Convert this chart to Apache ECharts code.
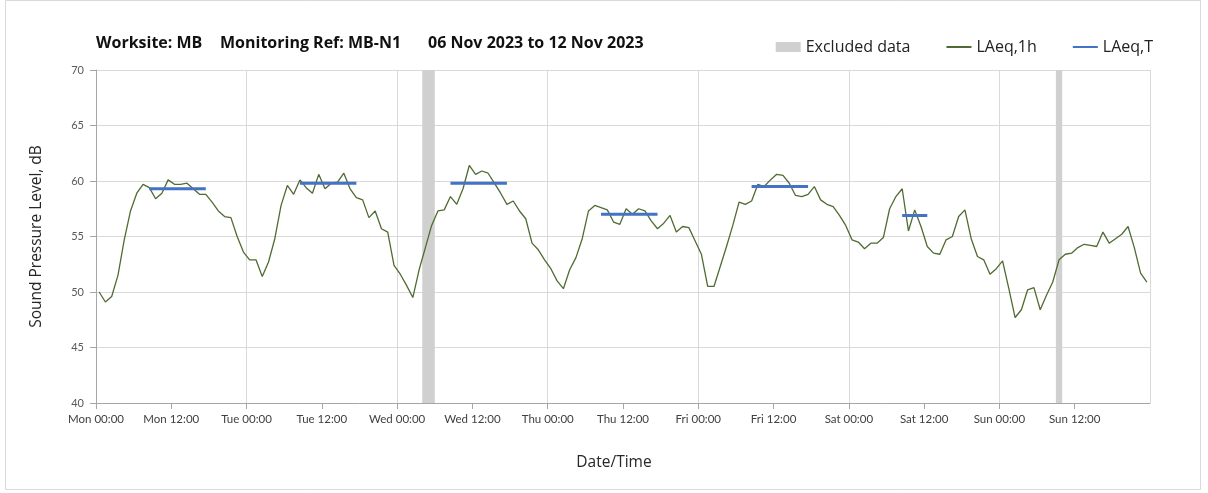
<!DOCTYPE html>
<html>
<head>
<meta charset="utf-8">
<script src="https://cdn.jsdelivr.net/npm/echarts@6/dist/echarts.min.js"></script>
<style>
  html, body { margin: 0; padding: 0; background: #fff; }
  #chart { width: 1208px; height: 493px; }
</style>
</head>
<body>
<div id="chart"></div>
<script>
// hourly LAeq,1h, Mon 00:00 .. Sun 23:00 (168 values)
const laeqHourly = [
  50.0, 49.1, 49.6, 51.5, 54.7, 57.3, 58.9, 59.7, 59.4, 58.4, 58.9, 60.1,
  59.7, 59.7, 59.8, 59.3, 58.8, 58.8, 58.1, 57.3, 56.8, 56.7, 55.0, 53.6,
  52.9, 52.9, 51.4, 52.7, 54.8, 57.8, 59.6, 58.8, 60.1, 59.4, 58.9, 60.6,
  59.3, 59.8, 59.9, 60.7, 59.3, 58.5, 58.3, 56.7, 57.3, 55.7, 55.4, 52.4,
  51.6, 50.6, 49.5, 52.0, 54.0, 56.0, 57.3, 57.4, 58.6, 57.9, 59.3, 61.4,
  60.6, 60.9, 60.7, 59.8, 58.9, 57.9, 58.2, 57.3, 56.6, 54.4, 53.8, 52.9,
  52.1, 51.0, 50.3, 52.0, 53.1, 54.8, 57.3, 57.8, 57.6, 57.4, 56.3, 56.1,
  57.5, 57.0, 57.5, 57.3, 56.4, 55.7, 56.2, 56.9, 55.4, 55.9, 55.8, 54.6,
  53.4, 50.5, 50.5, 52.3, 54.1, 56.0, 58.1, 57.9, 58.2, 59.7, 59.5, 60.1,
  60.6, 60.5, 59.8, 58.7, 58.6, 58.8, 59.5, 58.3, 57.9, 57.7, 56.9, 56.0,
  54.7, 54.5, 53.9, 54.4, 54.4, 54.9, 57.5, 58.6, 59.3, 55.5, 57.4, 55.9,
  54.1, 53.5, 53.4, 54.7, 55.0, 56.8, 57.4, 54.8, 53.2, 52.9, 51.6, 52.1,
  52.8, 50.3, 47.7, 48.4, 50.2, 50.4, 48.4, 49.7, 50.9, 52.9, 53.4, 53.5,
  54.0, 54.3, 54.2, 54.1, 55.4, 54.4, 54.8, 55.2, 55.9, 54.0, 51.7, 50.9
];

// LAeq,T periods (hours from Mon 00:00)
const periodStart = [8.5, 32.5, 56.5, 80.5, 104.5, 128.5];
const periodEnd = [17.5, 41.5, 65.5, 89.5, 113.5, 132.5];
const periodLevel = [59.3, 59.8, 59.8, 57.0, 59.5, 56.9];

// excluded data (hours from Mon 00:00)
const excludedStart = [52, 153];
const excludedEnd = [54, 154];

const tickLabels = [
  'Mon 00:00', 'Mon 12:00', 'Tue 00:00', 'Tue 12:00', 'Wed 00:00', 'Wed 12:00',
  'Thu 00:00', 'Thu 12:00', 'Fri 00:00', 'Fri 12:00', 'Sat 00:00', 'Sat 12:00',
  'Sun 00:00', 'Sun 12:00'
];

const hourlyData = laeqHourly.map((v, i) => [i + 0.5, v]);
const periodData = [];
periodStart.forEach((s, i) => {
  periodData.push([s, periodLevel[i]]);
  periodData.push([periodEnd[i], periodLevel[i]]);
  periodData.push([periodEnd[i], null]);
});
const excludedAreas = excludedStart.map((s, i) => [{ xAxis: s }, { xAxis: excludedEnd[i] }]);

const font = '"Open Sans", Lato, sans-serif';
const tickFont = 'Lato, sans-serif';
const hideDot = { color: 'rgba(0,0,0,0)', opacity: 0, borderWidth: 0 };
const chart = echarts.init(document.getElementById('chart'));

chart.setOption({
  animation: false,
  graphic: [{
    type: 'rect',
    shape: { x: 5.5, y: 0.5, width: 1195, height: 489 },
    style: { fill: 'none', stroke: '#d9d9d9', lineWidth: 1 },
    silent: true
  }],
  title: [
    { text: 'Worksite: MB', left: 91, top: 30 },
    { text: 'Monitoring Ref: MB-N1', left: 215, top: 30 },
    { text: '06 Nov 2023 to 12 Nov 2023', left: 423, top: 30 }
  ].map(t => Object.assign(t, {
    textStyle: { fontFamily: font, fontWeight: 'bold', fontSize: 16, color: '#111' }
  })),
  legend: {
    top: 34,
    right: 50,
    itemGap: 35,
    itemWidth: 25,
    itemHeight: 10,
    textStyle: { fontFamily: font, fontSize: 16, color: '#222' },
    data: [
      { name: 'Excluded data', icon: 'rect', itemStyle: { color: '#d0d0d0' } },
      { name: 'LAeq,1h', itemStyle: hideDot },
      { name: 'LAeq,T', itemStyle: hideDot }
    ]
  },
  grid: { left: 96, right: 58, top: 70, height: 333 },
  xAxis: [{
    type: 'value',
    min: 0,
    max: 168,
    interval: 12,
    name: 'Date/Time',
    nameLocation: 'middle',
    nameGap: 52,
    nameTextStyle: { fontFamily: font, fontSize: 15.5, color: '#262626', padding: [0, 18, 0, 0] },
    axisLine: { lineStyle: { color: '#a6a6a6' } },
    axisTick: { show: true, length: 6, lineStyle: { color: '#a6a6a6' } },
    axisLabel: {
      fontFamily: tickFont, fontSize: 11.5, color: '#404040', margin: 10,
      showMaxLabel: false,
      formatter: v => tickLabels[v / 12] || ''
    },
    splitLine: { show: false }
  }, {
    type: 'value',
    min: 0,
    max: 168,
    interval: 24,
    position: 'bottom',
    axisLine: { show: false },
    axisTick: { show: false },
    axisLabel: { show: false },
    splitLine: { show: true, lineStyle: { color: '#d9d9d9' } }
  }],
  yAxis: {
    type: 'value',
    min: 40,
    max: 70,
    interval: 5,
    name: 'Sound Pressure Level, dB',
    nameLocation: 'middle',
    nameGap: 51,
    nameTextStyle: { fontFamily: font, fontSize: 15.5, color: '#262626' },
    axisLine: { show: true, lineStyle: { color: '#a6a6a6' } },
    axisTick: { show: true, length: 6, lineStyle: { color: '#a6a6a6' } },
    axisLabel: { fontFamily: tickFont, fontSize: 11, color: '#595959', margin: 12 },
    splitLine: { lineStyle: { color: '#d9d9d9' } }
  },
  series: [{
    name: 'Excluded data',
    type: 'line',
    data: [],
    itemStyle: { color: '#d0d0d0' },
    markArea: {
      silent: true,
      itemStyle: { color: '#d0d0d0' },
      data: excludedAreas
    }
  }, {
    name: 'LAeq,1h',
    type: 'line',
    data: hourlyData,
    symbol: 'none',
    lineStyle: { color: '#4f6b32', width: 1.3 },
    itemStyle: { color: '#4f6b32' },
    z: 3
  }, {
    name: 'LAeq,T',
    type: 'line',
    data: periodData,
    symbol: 'none',
    connectNulls: false,
    lineStyle: { color: '#4472c4', width: 3 },
    itemStyle: { color: '#4472c4' },
    z: 4
  }]
});
</script>
</body>
</html>
